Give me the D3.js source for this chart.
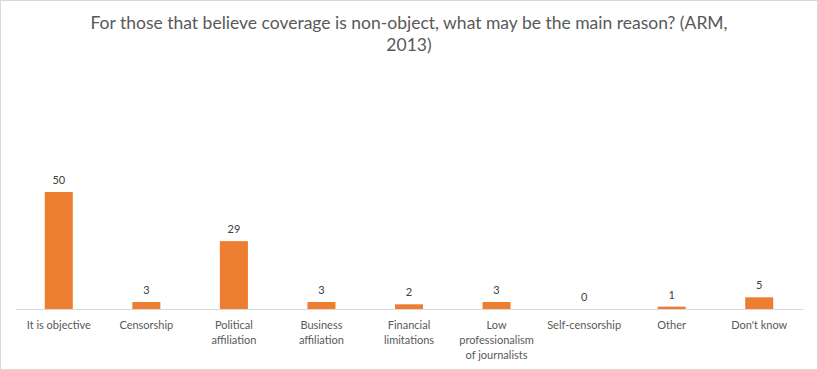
<!DOCTYPE html>
<html>
<head>
<meta charset="utf-8">
<script src="https://cdn.jsdelivr.net/npm/d3@7"></script>
<style>
  body { margin: 0; background: #fff; }
  svg { display: block; font-family: Lato, "Open Sans", sans-serif; }
</style>
</head>
<body>
<svg id="chart"></svg>
<script>
const categories = [
  ["It is objective"],
  ["Censorship"],
  ["Political", "affiliation"],
  ["Business", "affiliation"],
  ["Financial", "limitations"],
  ["Low", "professionalism", "of journalists"],
  ["Self-censorship"],
  ["Other"],
  ["Don't know"]
];
const values = [50, 3, 29, 3, 2, 3, 0, 1, 5];
const titleLines = [
  "For those that believe coverage is non-object, what may be the main reason? (ARM,",
  "2013)"
];

const W = 818, H = 370;
const margin = { top: 70, right: 15, bottom: 61, left: 15 };

const svg = d3.select("#chart").attr("width", W).attr("height", H);

svg.append("rect")
  .attr("x", 0.5).attr("y", 0.5)
  .attr("width", W - 1).attr("height", H - 1)
  .attr("fill", "#fff").attr("stroke", "#d9d9d9");

svg.selectAll(".title")
  .data(titleLines)
  .join("text")
  .attr("class", "title")
  .attr("x", W / 2)
  .attr("y", (d, i) => 29 + i * 22)
  .attr("text-anchor", "middle")
  .attr("font-size", 17.5)
  .attr("fill", "#595959")
  .text(d => d);

const x = d3.scaleBand()
  .domain(d3.range(categories.length))
  .range([margin.left, W - margin.right])
  .paddingInner(0.68)
  .paddingOuter(0.34);

const y = d3.scaleLinear()
  .domain([0, 50])
  .range([H - margin.bottom, 192]);

const g = svg.append("g");

g.selectAll(".bar")
  .data(values)
  .join("rect")
  .attr("class", "bar")
  .attr("x", (d, i) => x(i))
  .attr("y", d => y(d))
  .attr("width", x.bandwidth())
  .attr("height", d => y(0) - y(d))
  .attr("fill", "#ed7d31");

g.selectAll(".val")
  .data(values)
  .join("text")
  .attr("class", "val")
  .attr("x", (d, i) => x(i) + x.bandwidth() / 2)
  .attr("y", d => y(d) - 8)
  .attr("text-anchor", "middle")
  .attr("font-size", 11)
  .attr("fill", "#404040")
  .text(d => d);

// baseline
svg.append("g")
  .attr("transform", "translate(0," + y(0) + ")")
  .call(d3.axisBottom(x).tickSize(0).tickFormat(""))
  .call(a => a.select(".domain").attr("stroke", "#d9d9d9"));

const labels = svg.append("g");
categories.forEach((lines, i) => {
  labels.append("text")
    .attr("x", x(i) + x.bandwidth() / 2)
    .attr("y", y(0) + 20)
    .attr("text-anchor", "middle")
    .attr("font-size", 11)
    .attr("fill", "#595959")
    .selectAll("tspan")
    .data(lines)
    .join("tspan")
    .attr("x", x(i) + x.bandwidth() / 2)
    .attr("dy", (d, j) => j === 0 ? 0 : 15)
    .text(d => d);
});
</script>
</body>
</html>
